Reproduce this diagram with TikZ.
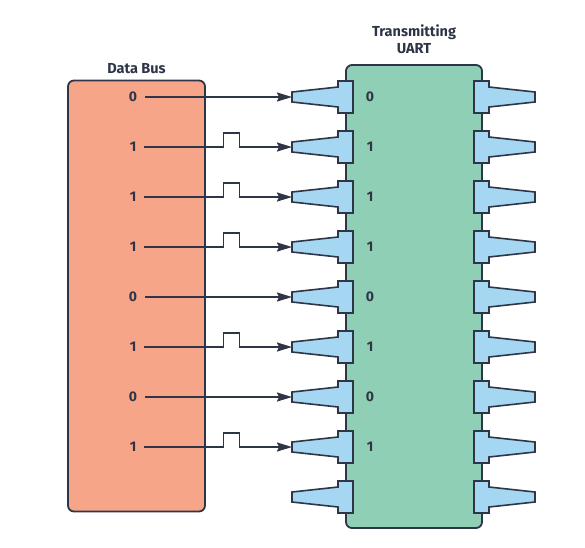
\documentclass[tikz,border=0pt]{standalone}
\usepackage{fontspec}
\setmainfont{Fira Sans}
\usetikzlibrary{positioning,arrows.meta}

\definecolor{ink}{HTML}{2D3546}
\definecolor{salmon}{HTML}{F7A589}
\definecolor{mint}{HTML}{8ECFB5}
\definecolor{skyblue}{HTML}{A5D6F2}

\begin{document}
\begin{tikzpicture}[x=1pt, y=-1pt,
                    busbox/.style={rectangle, rounded corners=6pt, draw=ink, line width=1.8pt, fill=salmon, minimum width=137pt, minimum height=431pt},
                    chipbox/.style={rectangle, rounded corners=6pt, draw=ink, line width=1.8pt, fill=mint, minimum width=136pt, minimum height=463pt},
                    title/.style={font=\fontsize{14.5}{17}\selectfont\bfseries, text=ink, align=center, inner sep=1pt},
                    bit/.style={font=\fontsize{14}{16}\selectfont\bfseries, text=ink, inner xsep=8pt, inner ysep=1pt},
                    wire/.style={draw=ink, line width=1.8pt, -{Stealth[length=15pt, width=9pt, inset=2pt]}},
                    pin/.style={draw=ink, line width=1.6pt, fill=skyblue, line join=miter}]
    \useasboundingbox (0,0) rectangle (585,547);
    % boxes
    \node[busbox]      (bus)    at (136.5,296)            {};
    \node[chipbox]     (uart)   at (414,296.5)            {};
    \node[title]       (busT)   [above=5pt of bus]        {Data Bus};
    \node[title]       (uartT)  [above=9pt of uart]       {Transmitting\\UART};
    % bits and wires
    \foreach \v [count=\i] in {0,1,1,1,0,1,0,1} {
        \node[bit]   (b\i)  at (133,47+50*\i)  {\v};
        \node[bit]   (u\i)  at (370,47+50*\i)  {\v};
        \coordinate  (p\i)  at (292,47+50*\i);
        \ifnum\v=1
            \draw[wire] (b\i.east) -- ++(79,0) -- ++(0,-14) -- ++(16,0) -- ++(0,14) -- (p\i);
        \else
            \draw[wire] (b\i.east) -- (p\i);
        \fi
    }
    % pins
    \foreach \i in {1,...,9} {
        \draw[pin] (292,42+50*\i) -- (338,37+50*\i) -- (338,31+50*\i) -- (353,31+50*\i)
                   -- (353,63+50*\i) -- (338,63+50*\i) -- (338,57+50*\i) -- (292,52+50*\i) -- cycle;
        \draw[pin] (535,42+50*\i) -- (489,37+50*\i) -- (489,31+50*\i) -- (474,31+50*\i)
                   -- (474,63+50*\i) -- (489,63+50*\i) -- (489,57+50*\i) -- (535,52+50*\i) -- cycle;
    }
\end{tikzpicture}
\end{document}
